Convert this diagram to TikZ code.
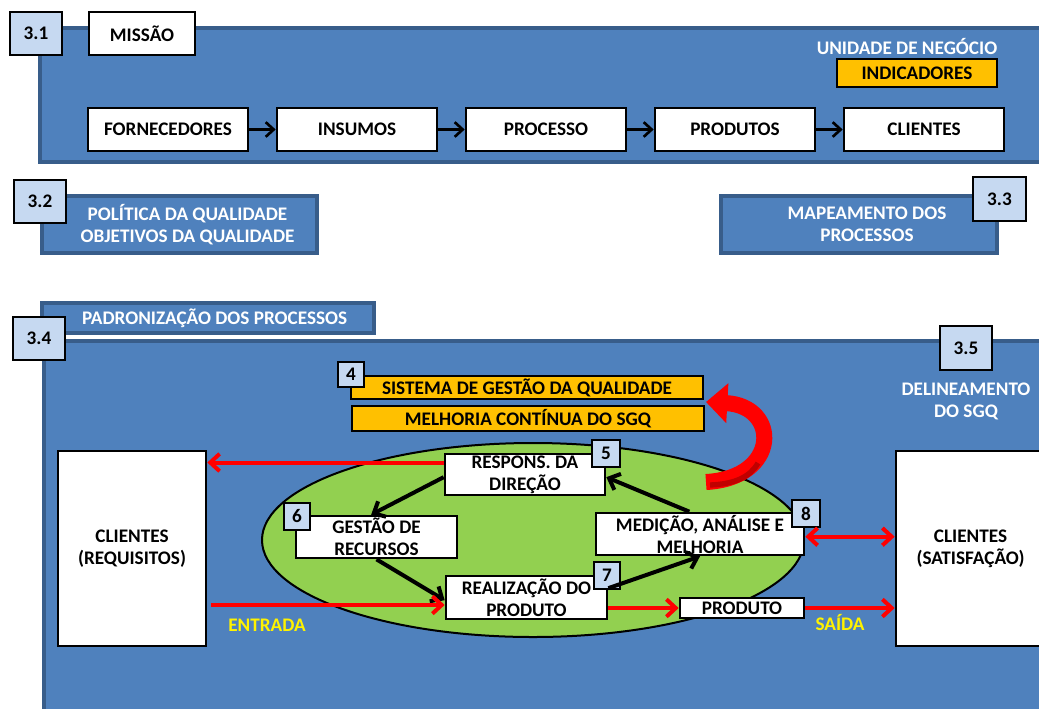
\documentclass[tikz,border=0pt]{standalone}
\usepackage{fontspec}
\setmainfont{Carlito}
\usetikzlibrary{arrows.meta}
\definecolor{paneblue}{HTML}{4F81BD}
\definecolor{paneedge}{HTML}{385D8A}
\definecolor{numblue}{HTML}{C6D9F1}
\definecolor{indorange}{HTML}{FFC000}
\definecolor{sgqgreen}{HTML}{92D050}
\definecolor{darkred}{HTML}{C00000}

\begin{document}
\begin{tikzpicture}[x=0.75pt, y=-0.75pt,
    wh/.style 2 args={minimum width=#1*0.75pt, minimum height=#2*0.75pt},
    box/.style={draw=black, line width=2pt, inner sep=0pt, align=center,
      font=\bfseries\fontsize{14.4}{16.5}\selectfont},
    wbox/.style={box, fill=white},
    nbox/.style={box, fill=numblue},
    obox/.style={box, fill=indorange},
    bluebox/.style={box, draw=paneedge, fill=paneblue, text=white, line width=2.5pt},
    panel/.style={draw=paneedge, fill=paneblue, line width=3pt},
    wtext/.style={text=white, align=center, font=\bfseries\fontsize{14.4}{16.5}\selectfont},
    ytext/.style={text=yellow, font=\bfseries\fontsize{14.4}{16.5}\selectfont},
    blk/.style={line width=3pt, -{Straight Barb[length=7pt,width=13pt]}},
    thinblk/.style={line width=2pt, -{Straight Barb[length=6pt,width=11pt]}},
    rd/.style={red, line width=3pt, -{Straight Barb[length=7pt,width=13pt]}},
  ]
    \clip (0,0) rectangle (1039,708);

    % 3.1 unidade de negocio
    \draw[panel] (40,28) rectangle (1045,162);
    \node[nbox, wh={52}{43}] (n31) at (36,33.5) {3.1};
    \node[wbox, wh={106}{43}] (missao) at (142,33.5) {MISSÃO};
    \node[wtext] (unid) at (907,47) {UNIDADE DE NEGÓCIO};
    \node[obox, wh={160}{28}] (indic) at (917,73) {INDICADORES};
    \foreach \i/\name/\txt in {0/forn/FORNECEDORES, 1/insu/INSUMOS, 2/proc/PROCESSO, 3/prods/PRODUTOS, 4/clis/CLIENTES} {
      \node[wbox, wh={160}{43}] (\name) at (168 + 189*\i, 129.5) {\txt};
    }
    \foreach \a/\b in {forn/insu, insu/proc, proc/prods, prods/clis} {
      \draw[thinblk] (\a) -- (\b);
    }

    % 3.2 and 3.3
    \node[bluebox, wh={275}{57}] (polit) at (179.5,224.5) {\hspace{12pt}POLÍTICA DA QUALIDADE\\\hspace{12pt}OBJETIVOS DA QUALIDADE};
    \node[nbox, wh={52}{43}] (n32) at (40,201.5) {3.2};
    \node[bluebox, wh={276}{57}] (mapea) at (859,224.5) {\hspace{12pt}MAPEAMENTO DOS\\\hspace{12pt}PROCESSOS};
    \node[nbox, wh={53}{44}] (n33) at (999.5,199) {3.3};

    % 3.4 and 3.5
    \node[bluebox, wh={332}{30}] (padro) at (208,318) {\hspace{10pt}PADRONIZAÇÃO DOS PROCESSOS};
    \draw[panel] (44,341) rectangle (1045,715);
    \node[nbox, wh={52}{43}] (n34) at (39,338.5) {3.4};
    \node[nbox, wh={52}{44}] (n35) at (966,348) {3.5};
    \node[wtext] (delin) at (966,401) {DELINEAMENTO\\DO SGQ};

    \node[obox, wh={352}{23}] (sgq) at (527,387.5) {SISTEMA DE GESTÃO DA QUALIDADE};
    \node[nbox, wh={26}{25}] (n4) at (351,374.5) {4};
    \node[obox, wh={352}{25}] (melh) at (528,418.5) {MELHORIA CONTÍNUA DO SGQ};

    \draw[fill=sgqgreen, line width=1.5pt] (533,540) ellipse [x radius=271, y radius=97];

    \node[wbox, wh={148}{195}] (creq) at (132,548.5) {CLIENTES\\(REQUISITOS)};
    \node[wbox, wh={149}{195}] (csat) at (970.5,548.5) {CLIENTES\\(SATISFAÇÃO)};

    \node[wbox, wh={160}{41}] (resp) at (525,474.5) {RESPONS. DA\\DIREÇÃO};
    \node[nbox, wh={28}{27}] (n5) at (606,453.5) {5};
    \node[wbox, wh={161}{42}] (gest) at (376.5,537) {GESTÃO DE\\RECURSOS};
    \node[nbox, wh={26}{27}] (n6) at (297,516.5) {6};
    \node[wbox, wh={208}{42}] (med) at (700,534) {MEDIÇÃO, ANÁLISE E\\MELHORIA};
    \node[nbox, wh={28}{27}] (n8) at (806,513.5) {8};
    \node[wbox, wh={161}{43}] (real) at (526.5,597.5) {REALIZAÇÃO DO\\PRODUTO};
    \node[nbox, wh={26}{27}] (n7) at (607,575.5) {7};
    \node[wbox, wh={124}{20}] (prod) at (742,608) {PRODUTO};

    % ciclo PDCA
    \draw[blk] ([yshift=-2pt]resp.west) -- ([xshift=-4pt]gest.north);
    \draw[blk] (gest.south) -- ([yshift=-2pt]real.west);
    \draw[blk] ([yshift=7pt]real.east) -- (med.south);
    \draw[blk] ([xshift=-8pt]med.north) -- ([yshift=-2pt]resp.east);

    % entradas e saidas
    \draw[rd] ([yshift=9pt]resp.west) coordinate (r1) -- (r1 -| creq.east);
    \coordinate (e1) at ([yshift=-5.6pt]real.west);
    \draw[rd] ([xshift=3pt]e1 -| creq.east) -- (e1);
    \draw[rd] (prod.west -| real.east) -- (prod.west);
    \draw[rd] (prod.east) -- (prod.east -| csat.west);
    \draw[rd, {Straight Barb[length=7pt,width=13pt]}-{Straight Barb[length=7pt,width=13pt]}]
      ([yshift=-2pt]med.east) -- ([yshift=-2pt]med.east -| csat.west);
    \node[ytext] (entr) at (267,625) {ENTRADA};
    \node[ytext] (said) at (840,622) {SAÍDA};

    % melhoria continua
    \draw[red, line width=12pt, -{Triangle[length=16pt,width=29pt]}]
      (706,482) .. controls (780,478) and (780,406) .. (706,402);
    \draw[darkred, line width=4pt] (710,485) .. controls (735,484) and (750,477) .. (758,463);
  \end{tikzpicture}
\end{document}
